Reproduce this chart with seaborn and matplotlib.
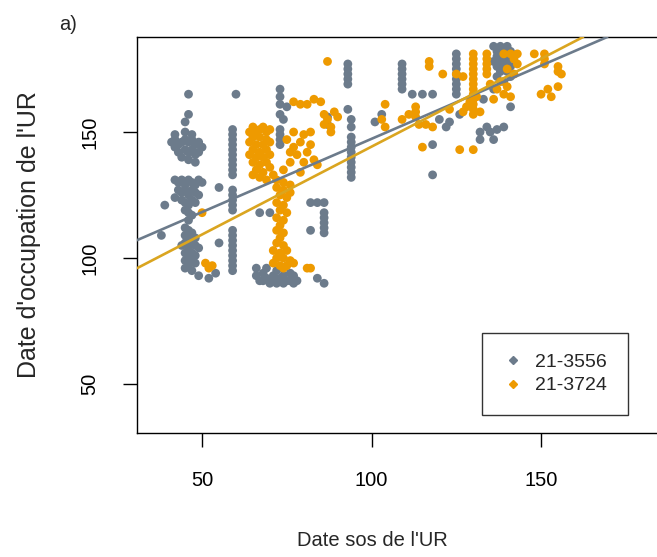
import pandas as pd
import matplotlib
matplotlib.use("Agg")
import matplotlib.pyplot as plt
import seaborn as sns

# data (Date sos, Date d'occupation)
gray_x = [38, 39,
          46, 46, 45,
          41, 42, 43, 44, 45, 46, 47, 48, 49, 50,
          42, 43, 45, 46, 47, 48, 44, 46, 48, 49, 42, 47, 45,
          42, 43, 44, 45, 46, 47, 48, 49, 50,
          43, 44, 45, 46, 47, 48, 49,
          42, 44, 45, 46, 47, 48, 45, 46, 47, 46,
          45, 46, 47, 45, 46, 48, 45, 47, 48, 46, 45, 47, 48, 46, 45, 47, 48, 46, 45, 47, 49, 44,
          49, 52, 54, 55, 55,
          60, 59, 59, 59, 59, 59, 59, 59, 59, 59, 59, 59, 59, 59, 59, 59,
          59, 59, 59, 59, 59, 59, 59, 59, 59,
          66, 66, 67, 68, 68, 69, 69, 70, 71, 71, 72, 72, 73, 74, 74, 75, 76, 76, 77, 77, 78, 67, 70,
          73, 73, 73, 73, 73, 73, 73, 73, 74, 75,
          82, 84, 86, 82, 86, 86, 86, 86, 86, 84, 86,
          87, 87,
          93, 93, 93, 93, 93, 93, 94, 94, 94, 94, 94, 94, 94, 94, 94, 94, 94,
          101, 103,
          109, 109, 109, 109, 109, 109, 112, 115, 118, 118, 118,
          120, 122, 123, 126,
          125, 125, 125, 125, 125, 125, 125, 125, 125,
          133, 132, 134, 132, 136, 137, 139, 135,
          136, 137, 138, 139, 140, 141, 137, 139, 141, 136, 138, 140, 137, 139, 141, 138, 140,
          137, 141, 139, 136, 141]
gray_y = [109, 121,
          165, 157, 154,
          146, 147, 145, 146, 147, 146, 147, 145, 146, 144,
          144, 142, 143, 142, 143, 141, 140, 139, 138, 142, 149, 149, 150,
          131, 130, 131, 129, 131, 130, 129, 131, 130,
          127, 126, 127, 125, 127, 126, 125,
          124, 123, 122, 121, 123, 122, 119, 118, 117, 115,
          112, 111, 110, 109, 108, 108, 106, 106, 105, 104, 102, 102, 101, 100, 99, 99, 98, 97, 96, 95, 104, 105,
          93, 92, 94, 106, 128,
          165, 151, 149, 147, 145, 143, 141, 139, 137, 135, 133, 127, 125, 123, 121, 119,
          111, 109, 107, 105, 103, 101, 99, 97, 95,
          96, 93, 91, 94, 91, 96, 92, 90, 93, 91, 95, 90, 92, 90, 93, 91, 94, 91, 90, 93, 91, 118, 118,
          167, 164, 161, 157, 151, 149, 147, 145, 155, 160,
          122, 122, 122, 111, 110, 112, 114, 116, 118, 92, 90,
          153, 156,
          177, 175, 173, 171, 169, 159, 155, 152, 148, 146, 144, 142, 140, 138, 136, 134, 132,
          154, 157,
          177, 175, 173, 171, 169, 167, 165, 165, 165, 145, 133,
          155, 152, 154, 157,
          181, 179, 177, 175, 173, 171, 169, 167, 165,
          163, 150, 152, 147, 147, 151, 152, 150,
          184, 182, 184, 182, 184, 182, 180, 180, 180, 178, 178, 178, 176, 176, 176, 174, 174,
          172, 172, 170, 167, 160]

orange_x = [50, 51, 52, 53,
            64, 65, 66, 67, 68, 69, 70,
            65, 67, 69, 64, 66, 68, 70,
            65, 67, 69, 64, 66, 68, 70,
            65, 67, 69, 66, 68, 70, 65, 67, 69, 71,
            72, 74, 76, 72, 74, 76, 73, 75, 72, 74, 73, 75, 72, 74, 73, 72,
            74, 73, 72, 74, 75, 71, 73, 72, 74, 76, 71, 73, 75, 77, 74,
            74, 76, 78, 77, 79, 80, 81, 83, 82, 84, 79, 77, 75, 80, 82, 76,
            77, 79, 81, 83, 85,
            86, 87, 88, 89, 90, 88, 86,
            81, 82, 87,
            104, 103, 104, 109, 113, 113, 113, 114, 116, 118, 115, 111,
            117, 117, 121, 125, 123, 126, 130,
            127, 130, 130, 130, 130, 130, 130, 130, 130, 130, 130, 130, 130, 130,
            127, 128, 129, 132, 131,
            134, 134, 134, 134, 134,
            139, 141, 142, 143, 140, 142, 143,
            135, 137, 139, 141, 136, 138, 140,
            148, 151, 151, 151, 155, 155, 150, 152, 153, 155, 156]
orange_y = [118, 98, 96, 97,
            150, 152, 150, 151, 152, 150, 151,
            148, 148, 147, 146, 145, 145, 146,
            143, 142, 143, 141, 140, 140, 141,
            138, 137, 138, 135, 134, 136, 133, 132, 131, 133,
            131, 130, 129, 128, 127, 126, 125, 124, 122, 121, 119, 118, 116, 115, 113, 111,
            110, 108, 106, 105, 103, 103, 102, 100, 100, 99, 98, 97, 97, 98, 96,
            135, 138, 141, 144, 146, 149, 142, 139, 150, 137, 134, 150, 147, 138, 145, 142,
            162, 161, 161, 163, 162,
            157, 155, 152, 158, 156, 150, 153,
            96, 96, 178,
            161, 155, 152, 155, 160, 158, 156, 153, 153, 152, 144, 157,
            178, 176, 173, 173, 159, 143, 143,
            172, 181, 179, 177, 175, 173, 171, 169, 167, 165, 163, 161, 159, 157,
            158, 160, 162, 158, 164,
            181, 179, 177, 175, 173,
            181, 181, 179, 177, 175, 173, 181,
            169, 167, 165, 164, 163, 170, 168,
            181, 181, 179, 177, 176, 174, 165, 167, 164, 168, 173]

groups = ["21-3556", "21-3724"]
colors = ["#6C7B8B", "#EE9A00"]
line_colors = ["#6C7B8B", "#DAA520"]
# fitted lines: intercept, slope
intercepts = [89.2, 74.5]
slopes = [0.581, 0.697]

df = pd.DataFrame({
    "sos": gray_x + orange_x,
    "occ": gray_y + orange_y,
    "grp": [groups[0]] * len(gray_x) + [groups[1]] * len(orange_x),
})

sns.set_style("white")
plt.rcParams["font.family"] = ["Liberation Sans", "DejaVu Sans"]

fig = plt.figure(figsize=(6.57, 5.57), dpi=100)
ax = fig.add_axes([0.2085, 0.2226, 0.7915, 0.711])

sns.scatterplot(data=df, x="sos", y="occ", hue="grp", hue_order=groups,
                palette=colors, s=40, linewidth=0, alpha=1, ax=ax, legend=False)

for b, m, c in zip(intercepts, slopes, line_colors):
    ax.axline((0, b), slope=m, color=c, lw=1.9, zorder=3)

ax.set_xlim(30.8, 184.2)
ax.set_ylim(30.6, 187.7)
ax.set_xticks([50, 100, 150])
ax.set_yticks([50, 100, 150])
ax.set_yticklabels(["50", "100", "150"], rotation=90, va="center")
ax.tick_params(direction="out", length=10, width=1, pad=17, labelsize=14.5,
               colors="black", bottom=True, left=True)
for side in ["left", "bottom", "top"]:
    ax.spines[side].set_color("black")
    ax.spines[side].set_linewidth(1)
ax.spines["right"].set_visible(False)
ax.set_xlabel("")
ax.set_ylabel("")

fig.text(372 / 657, 1 - 540 / 557, "Date sos de l'UR", ha="center", va="center", fontsize=14.5)
fig.text(29 / 657, 1 - 235 / 557, "Date d'occupation de l'UR", ha="center", va="center",
         rotation=90, fontsize=18)
fig.text(68 / 657, 1 - 24 / 557, "a)", ha="center", va="center", fontsize=14.5)

handles = [plt.Line2D([], [], marker="D", color=c, linestyle="", markersize=4) for c in colors]
leg = ax.legend(handles, groups, loc="upper left",
                bbox_to_anchor=(482 / 657, 1 - 333 / 557), bbox_transform=fig.transFigure,
                frameon=True, fancybox=False, fontsize=14, handletextpad=0.6,
                borderpad=1.05, labelspacing=0.3, handlelength=1.1, borderaxespad=0)
leg.get_frame().set_edgecolor("black")
leg.get_frame().set_linewidth(1)

fig.savefig("out.png", dpi=100)
